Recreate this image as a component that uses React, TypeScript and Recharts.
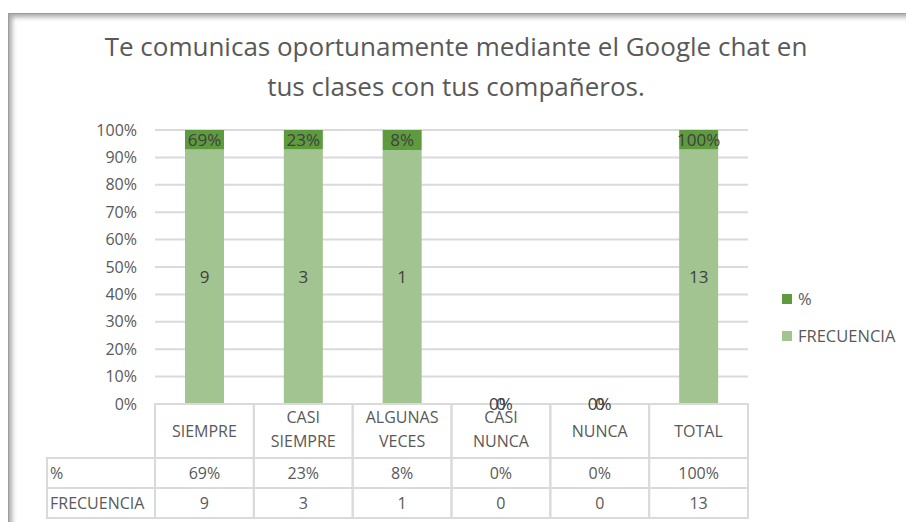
import { BarChart, Bar, XAxis, YAxis, CartesianGrid, Legend, LabelList, ReferenceDot } from 'recharts';

// categories and values
const categories = ['SIEMPRE', 'CASI SIEMPRE', 'ALGUNAS VECES', 'CASI NUNCA', 'NUNCA', 'TOTAL'];
const frecuencia = [9, 3, 1, 0, 0, 13];
const porcentaje = [0.69, 0.23, 0.08, 0, 0, 1];
const yTicks = [0, 0.1, 0.2, 0.3, 0.4, 0.5, 0.6, 0.7, 0.8, 0.9, 1];

const data = categories.map((name, i) => ({
    name,
    frecuencia: frecuencia[i],
    pct: porcentaje[i],
}));

const W = 906;
const H = 522;
const margin = { top: 130, right: 158, bottom: 4, left: 0 };
const yAxisW = 155;
const bandW = (W - margin.left - margin.right - yAxisW) / categories.length;

const LIGHT = '#a2c490';
const DARK = '#5e9b3f';
const GRID = '#dadada';
const TEXT = '#595959';
const LABEL = '#404040';
const FONT = '"Open Sans", sans-serif';

const pctFmt = (v: any) => `${Math.round(Number(v) * 100)}%`;

// x axis tick that draws the data table column under each category
const TableTick = (props: any) => {
    const { x, y, payload } = props;
    const i = payload.index;
    const left = x - bandW / 2;
    const lines = categories[i].split(' ');
    const headerH = 54;
    const rowH = 30;
    const cell = { fill: 'none', stroke: GRID, strokeWidth: 2 };
    const txt = { fill: TEXT, fontSize: 16, fontFamily: FONT, textAnchor: 'middle' as const };
    return (
        <g>
            <rect x={left} y={y} width={bandW} height={headerH} {...cell} />
            <rect x={left} y={y + headerH} width={bandW} height={rowH} {...cell} />
            <rect x={left} y={y + headerH + rowH} width={bandW} height={rowH} {...cell} />
            {lines.length === 1 ? (
                <text x={x} y={y + 27} dy="0.35em" {...txt}>{lines[0]}</text>
            ) : (
                lines.map((l, k) => (
                    <text key={k} x={x} y={y + 13 + k * 24} dy="0.35em" {...txt}>{l}</text>
                ))
            )}
            <text x={x} y={y + headerH + rowH / 2} dy="0.35em" {...txt}>{pctFmt(porcentaje[i])}</text>
            <text x={x} y={y + headerH + rowH * 1.5} dy="0.35em" {...txt}>{frecuencia[i]}</text>
            {i === 0 && (
                <g>
                    <rect x={left - 108} y={y + headerH} width={108} height={rowH} {...cell} />
                    <rect x={left - 108} y={y + headerH + rowH} width={108} height={rowH} {...cell} />
                    <text x={left - 105} y={y + headerH + rowH / 2} dy="0.35em" {...txt} textAnchor="start">%</text>
                    <text x={left - 105} y={y + headerH + rowH * 1.5} dy="0.35em" {...txt} textAnchor="start">FRECUENCIA</text>
                </g>
            )}
        </g>
    );
};

const renderLegend = (props: any) => {
    const items = props.payload || [];
    return (
        <div style={{ fontFamily: FONT, fontSize: 16.5, color: TEXT }}>
            {items.map((it: any, k: number) => (
                <div key={k} style={{ display: 'flex', alignItems: 'center', height: 37 }}>
                    <span style={{ width: 10, height: 10, background: it.color, marginRight: 6, display: 'inline-block' }} />
                    <span>{it.value}</span>
                </div>
            ))}
        </div>
    );
};

const zeroLabel = { position: 'center' as const, fill: LABEL, fontSize: 17, fontFamily: FONT };

export default function App() {
    return (
        <div style={{ position: 'absolute', left: 0, top: 0, width: W, height: H, background: '#fff', overflow: 'hidden', fontFamily: FONT }}>
            <div style={{
                position: 'absolute', left: 8, top: 13, width: W + 10, height: H + 10,
                border: '1px solid #9c9c9c', boxShadow: 'inset 4px 4px 5px -1px #a8a8a8',
            }} />
            <div style={{
                position: 'absolute', left: 10, width: W - 14, top: 26, textAlign: 'center',
                fontSize: 26, lineHeight: '40px', color: TEXT,
            }}>
                Te comunicas oportunamente mediante el Google chat en<br />tus clases con tus compañeros.
            </div>
            <div style={{ position: 'absolute', left: 0, top: 0 }}>
                <BarChart width={W} height={H} data={data} margin={margin} stackOffset="expand" barSize={39}>
                    <CartesianGrid vertical={false} stroke={GRID} strokeWidth={2} />
                    <XAxis dataKey="name" height={114} axisLine={false} tickLine={false} tickSize={0} tickMargin={0}
                        interval={0} tick={<TableTick />} />
                    <YAxis width={yAxisW} domain={[0, 1]} ticks={yTicks} tickFormatter={pctFmt}
                        axisLine={false} tickLine={false} tickSize={0} tickMargin={18}
                        tick={{ fill: TEXT, fontSize: 16, fontFamily: FONT }} />
                    <Legend layout="horizontal" align="center" verticalAlign="middle"
                        wrapperStyle={{ left: 782, top: 280, width: 124 }} content={renderLegend} />
                    <Bar dataKey="frecuencia" name="FRECUENCIA" stackId="a" fill={LIGHT} isAnimationActive={false}>
                        <LabelList dataKey="frecuencia" position="center" fill={LABEL} fontSize={17} fontFamily={FONT} />
                    </Bar>
                    <Bar dataKey="pct" name="%" stackId="a" fill={DARK} isAnimationActive={false}>
                        <LabelList dataKey="pct" position="center" formatter={pctFmt} fill={LABEL} fontSize={17} fontFamily={FONT} />
                    </Bar>
                    {/* zero-height bars: Excel still prints both labels on the baseline */}
                    {data.filter((d) => d.frecuencia === 0).map((d) => (
                        <ReferenceDot key={d.name + 'f'} x={d.name} y={0} r={1} fill="none" stroke="none"
                            label={{ ...zeroLabel, value: String(d.frecuencia) }} />
                    ))}
                    {data.filter((d) => d.frecuencia === 0).map((d) => (
                        <ReferenceDot key={d.name + 'p'} x={d.name} y={0} r={1} fill="none" stroke="none"
                            label={{ ...zeroLabel, value: pctFmt(d.pct) }} />
                    ))}
                </BarChart>
            </div>
        </div>
    );
}
